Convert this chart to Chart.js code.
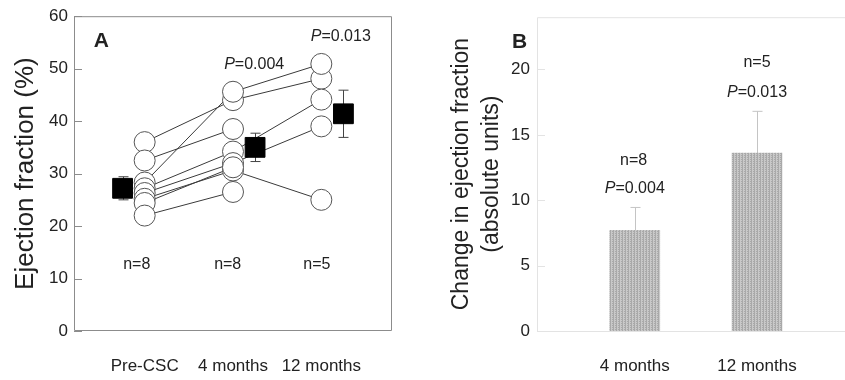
<!DOCTYPE html>
<html>
<head>
<meta charset="utf-8">
<script src="https://cdn.jsdelivr.net/npm/chart.js@4.4.1/dist/chart.umd.min.js"></script>
<style>
  body { margin: 0; background: #fff; }
  #wrap { position: relative; width: 845px; height: 380px; }
  canvas { position: absolute; top: 0; }
  #chartA { left: 0; }
  #chartB { left: 430px; }
</style>
</head>
<body>
<div id="wrap">
  <canvas id="chartA" width="430" height="380"></canvas>
  <canvas id="chartB" width="415" height="380"></canvas>
</div>
<script>
// Panel A: ejection fraction per patient
const timepoints = ['Pre-CSC', '4 months', '12 months'];
const efPre = [36, 32.5, 28.3, 27.2, 26.3, 25.2, 24.4, 22];
const ef4m  = [44, 38.5, 45.6, 34.2, 32, 30.6, 31.2, 26.5];
const ef12m = [48.1, null, 50.9, 44.1, 39, 25, null, null];
const efMean = [27.2, 35.0, 41.4];
const efSE   = [2.2, 2.7, 4.5];
const nA = ['n=8', 'n=8', 'n=5'];
const pA = ['P=0.004', 'P=0.013'];

// Panel B: change in ejection fraction
const changeLabels = ['4 months', '12 months'];
const changeMean = [7.7, 13.6];
const changeSE   = [1.75, 3.2];
const nB = ['n=8', 'n=5'];
const pB = ['P=0.004', 'P=0.013'];

const FONT = '"Liberation Sans", Arial, sans-serif';
Chart.defaults.font.family = FONT;
Chart.defaults.color = '#222';

// box / frame and inward tick marks
const framePlugin = {
  id: 'frame',
  beforeDatasetsDraw(chart, args, opts) {
    const { ctx, chartArea: a, scales: { y } } = chart;
    ctx.save();
    ctx.strokeStyle = opts.color;
    ctx.lineWidth = 1;
    ctx.beginPath();
    if (opts.box) {
      ctx.rect(a.left + 0.5, a.top + 0.5, a.width - 1, a.height - 1);
    } else {
      ctx.moveTo(chart.width, a.top + 0.5);
      ctx.lineTo(a.left + 0.5, a.top + 0.5);
      ctx.lineTo(a.left + 0.5, a.bottom + 0.5);
      ctx.lineTo(chart.width, a.bottom + 0.5);
    }
    y.ticks.forEach(t => {
      const py = Math.round(y.getPixelForValue(t.value)) + 0.5;
      ctx.moveTo(a.left, py);
      ctx.lineTo(a.left + 8, py);
    });
    ctx.stroke();
    ctx.restore();
  }
};

// vertical error bars with caps
const errorPlugin = {
  id: 'errors',
  beforeDatasetsDraw(chart, args, opts) {
    const { ctx, scales: { x, y } } = chart;
    ctx.save();
    ctx.strokeStyle = opts.color;
    ctx.lineWidth = 1;
    ctx.beginPath();
    opts.bars.forEach(b => {
      const px = Math.round(x.getPixelForValue(b.x)) + 0.5;
      const top = y.getPixelForValue(b.hi);
      const bot = y.getPixelForValue(b.lo);
      ctx.moveTo(px, bot);
      ctx.lineTo(px, top);
      ctx.moveTo(px - opts.cap, top);
      ctx.lineTo(px + opts.cap, top);
      if (opts.bothCaps) {
        ctx.moveTo(px - opts.cap, bot);
        ctx.lineTo(px + opts.cap, bot);
      }
    });
    ctx.stroke();
    ctx.restore();
  }
};

// text notes placed at data coordinates
const notesPlugin = {
  id: 'notes',
  afterDatasetsDraw(chart, args, opts) {
    const { ctx, scales: { x, y } } = chart;
    ctx.save();
    ctx.fillStyle = '#222';
    ctx.textBaseline = 'middle';
    opts.items.forEach(n => {
      const px = x.getPixelForValue(n.x);
      const py = y.getPixelForValue(n.y);
      if (n.bold) {
        ctx.font = 'bold ' + n.size + 'px ' + FONT;
        ctx.textAlign = 'left';
        ctx.fillText(n.text, px, py);
        return;
      }
      ctx.textAlign = 'left';
      if (n.text.startsWith('P=')) {
        ctx.font = 'italic ' + n.size + 'px ' + FONT;
        const w1 = ctx.measureText('P').width;
        ctx.font = n.size + 'px ' + FONT;
        const rest = n.text.slice(1);
        const w2 = ctx.measureText(rest).width;
        const start = px - (w1 + w2) / 2;
        ctx.font = 'italic ' + n.size + 'px ' + FONT;
        ctx.fillText('P', start, py);
        ctx.font = n.size + 'px ' + FONT;
        ctx.fillText(rest, start + w1, py);
      } else {
        ctx.font = n.size + 'px ' + FONT;
        ctx.textAlign = 'center';
        ctx.fillText(n.text, px, py);
      }
    });
    ctx.restore();
  }
};

// ---------- Panel A ----------
const lineSets = efPre.map((v, i) => ({
  data: [{ x: 1, y: v }, { x: 2, y: ef4m[i] }, { x: 3, y: ef12m[i] }],
  showLine: true,
  borderColor: '#3a3a3a',
  borderWidth: 1,
  pointRadius: 0,
  order: 3
}));

const circlePts = [];
[efPre, ef4m, ef12m].forEach((arr, k) => {
  arr.forEach(v => { if (v != null) circlePts.push({ x: k + 1, y: v }); });
});

new Chart(document.getElementById('chartA'), {
  type: 'scatter',
  data: {
    datasets: [
      ...lineSets,
      {
        data: circlePts,
        pointRadius: 10.5,
        pointBackgroundColor: '#fff',
        pointBorderColor: '#555',
        pointBorderWidth: 1,
        order: 2
      },
      {
        data: efMean.map((v, i) => ({ x: i + 1 + (i === 0 ? -0.25 : 0.25), y: v })),
        pointStyle: 'rect',
        pointRadius: 14,
        pointBackgroundColor: '#000',
        pointBorderColor: '#000',
        order: 1
      }
    ]
  },
  options: {
    responsive: false,
    animation: false,
    events: [],
    layout: { padding: { top: 16, right: 38, left: 0, bottom: 0 } },
    plugins: {
      legend: { display: false },
      tooltip: { enabled: false },
      frame: { color: '#8c8c8c', box: true },
      errors: {
        color: '#444', cap: 5, bothCaps: true,
        bars: efMean.map((v, i) => ({
          x: i + 1 + (i === 0 ? -0.25 : 0.25), lo: v - efSE[i], hi: v + efSE[i]
        }))
      },
      notes: {
        items: [
          { text: 'A', x: 0.424, y: 55.2, size: 21, bold: true },
          { text: pA[0], x: 2.24, y: 50.8, size: 16 },
          { text: pA[1], x: 3.22, y: 56.1, size: 16 },
          { text: nA[0], x: 0.91, y: 12.6, size: 16 },
          { text: nA[1], x: 1.94, y: 12.6, size: 16 },
          { text: nA[2], x: 2.95, y: 12.6, size: 16 }
        ]
      }
    },
    scales: {
      x: {
        type: 'linear',
        min: 0.2,
        max: 3.8,
        offset: false,
        afterBuildTicks: s => { s.ticks = timepoints.map((_, i) => ({ value: i + 1 })); },
        ticks: {
          callback: v => timepoints[v - 1],
          font: { size: 17 },
          color: '#222',
          padding: 25,
          maxRotation: 0,
          autoSkip: false
        },
        grid: { display: false, drawTicks: false },
        border: { display: false },
        afterFit: s => { s.height = 49; }
      },
      y: {
        min: 0,
        max: 60,
        ticks: { stepSize: 10, font: { size: 17 }, color: '#222', padding: 6 },
        grid: { display: false, drawTicks: false },
        border: { display: false },
        title: {
          display: true,
          text: 'Ejection fraction (%)',
          font: { size: 26 },
          color: '#222',
          padding: { top: 10, bottom: 0 }
        },
        afterFit: s => { s.width = 74; }
      }
    }
  },
  plugins: [framePlugin, errorPlugin, notesPlugin]
});

// ---------- Panel B ----------
const pc = document.createElement('canvas');
pc.width = 3; pc.height = 2;
const pg = pc.getContext('2d');
pg.fillStyle = '#c9c9c9';
pg.fillRect(0, 0, 3, 2);
pg.fillStyle = '#a9a9a9';
pg.fillRect(0, 0, 1, 2);
pg.fillRect(2, 1, 1, 1);
const barPattern = document.getElementById('chartB').getContext('2d').createPattern(pc, 'repeat');

new Chart(document.getElementById('chartB'), {
  type: 'bar',
  data: {
    datasets: [{
      data: changeMean.map((v, i) => ({ x: i + 1, y: v })),
      backgroundColor: barPattern,
      borderWidth: 0,
      barThickness: 50
    }]
  },
  options: {
    responsive: false,
    animation: false,
    events: [],
    layout: { padding: { top: 15, right: 0, left: 0, bottom: 0 } },
    plugins: {
      legend: { display: false },
      tooltip: { enabled: false },
      frame: { color: '#e3e3e3', box: false },
      errors: {
        color: '#c4c4c4', cap: 5, bothCaps: false,
        bars: changeMean.map((v, i) => ({ x: i + 1, lo: v, hi: v + changeSE[i] }))
      },
      notes: {
        items: [
          { text: 'B', x: -0.005, y: 22.1, size: 21, bold: true },
          { text: nB[0], x: 0.99, y: 13.0, size: 16 },
          { text: pB[0], x: 1.0, y: 10.86, size: 16 },
          { text: nB[1], x: 2.0, y: 20.5, size: 16 },
          { text: pB[1], x: 2.0, y: 18.2, size: 16 }
        ]
      }
    },
    scales: {
      x: {
        type: 'linear',
        min: 0.2,
        max: 2.72,
        offset: false,
        afterBuildTicks: s => { s.ticks = changeLabels.map((_, i) => ({ value: i + 1 })); },
        ticks: {
          callback: v => changeLabels[v - 1],
          font: { size: 17 },
          color: '#222',
          padding: 25,
          maxRotation: 0,
          autoSkip: false
        },
        grid: { display: false, drawTicks: false },
        border: { display: false },
        afterFit: s => { s.height = 49; }
      },
      y: {
        min: 0,
        max: 24,
        ticks: { stepSize: 5, includeBounds: false, font: { size: 17 }, color: '#222', padding: 7 },
        grid: { display: false, drawTicks: false },
        border: { display: false },
        title: {
          display: true,
          text: ['Change in ejection fraction', '(absolute units)'],
          font: { size: 23, lineHeight: 1.3 },
          color: '#222',
          padding: { top: 17, bottom: 0 }
        },
        afterFit: s => { s.width = 107; }
      }
    }
  },
  plugins: [framePlugin, errorPlugin, notesPlugin]
});
</script>
</body>
</html>
